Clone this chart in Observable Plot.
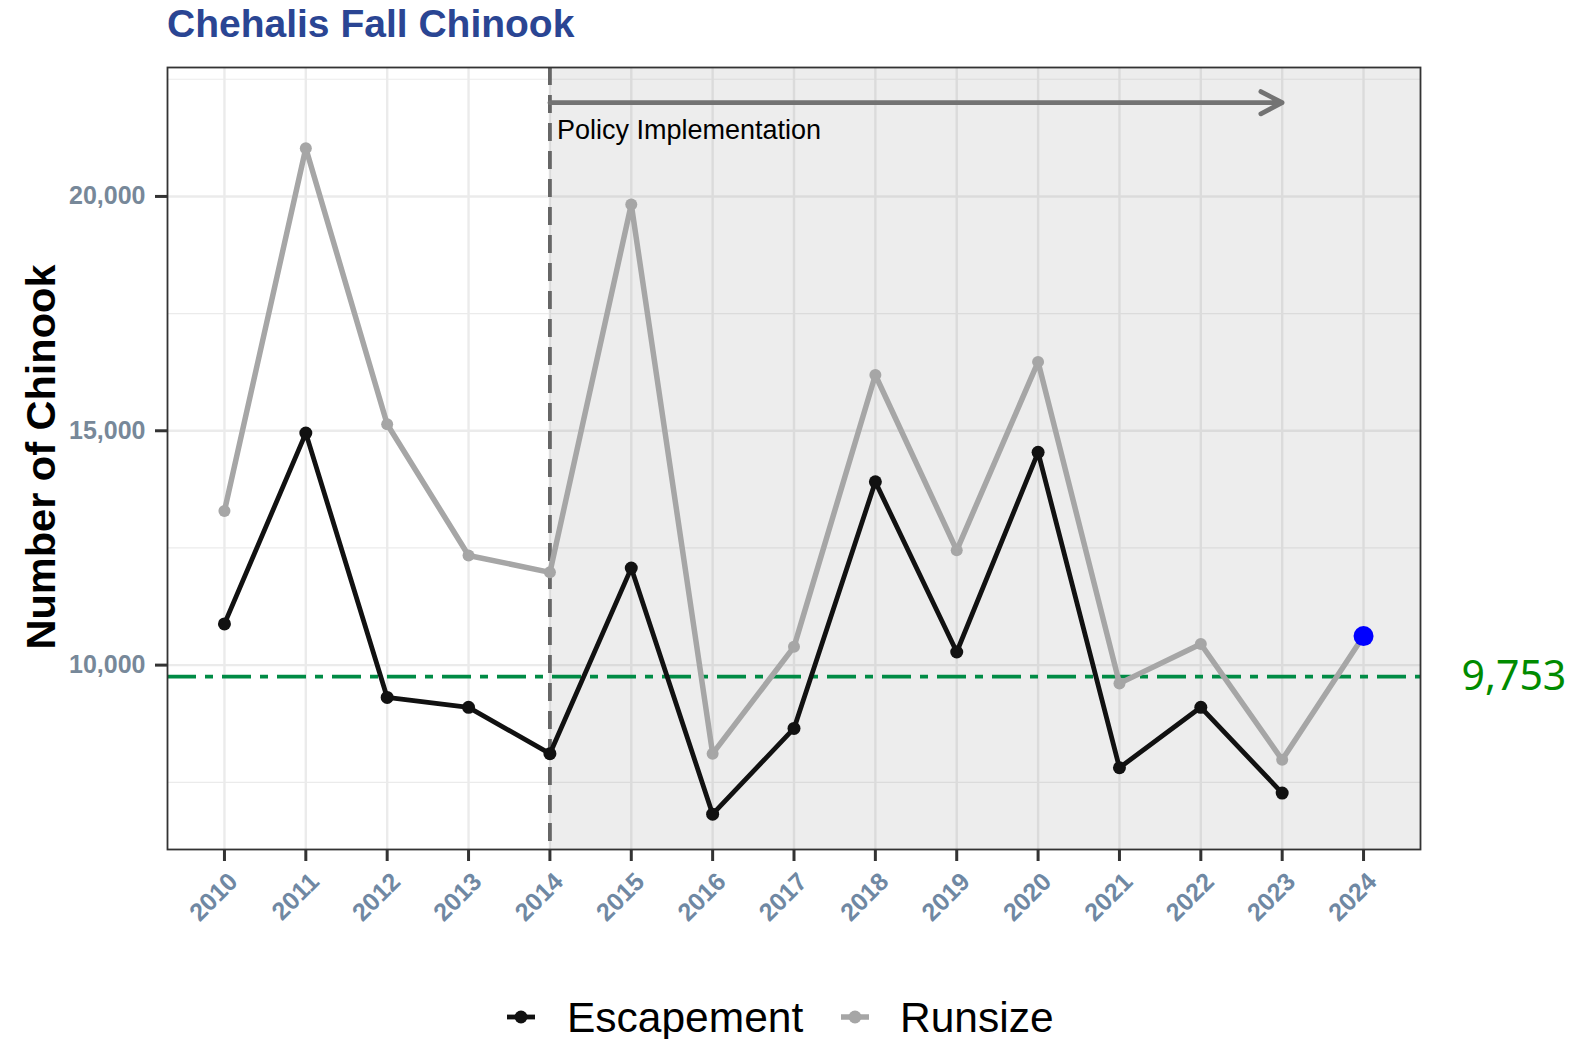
<!DOCTYPE html>
<html><head><meta charset="utf-8">
<script src="https://cdn.jsdelivr.net/npm/d3@7"></script>
<script src="https://cdn.jsdelivr.net/npm/@observablehq/plot@0.6"></script>
<style>
body{margin:0;background:#fff;font-family:"Liberation Sans",Arial,sans-serif}
#wrap{position:relative;width:1582px;height:1039px;overflow:hidden;background:#fff}
#title{height:50px;box-sizing:border-box;padding-left:167px;padding-top:2px;font-weight:bold;font-size:39px;line-height:44px;color:#2a4593;white-space:nowrap}
#ytitle{position:absolute;left:41px;top:456.5px;width:600px;text-align:center;font-weight:bold;font-size:41.5px;line-height:48px;color:#000;white-space:nowrap;transform:translate(-50%,-50%) rotate(-90deg)}
#plot svg{display:block;overflow:visible}
#plot g[aria-label="y-axis tick label"] text, #plot g[aria-label="x-axis tick label"] text{font-weight:bold}
#legend{position:relative;height:89px}
.key{position:absolute;top:57px;width:40px;height:20px}
.lab{position:absolute;top:43.5px;font-size:42.5px;line-height:48px;color:#000;white-space:nowrap}
</style></head>
<body><div id="wrap"><div id="title">Chehalis Fall Chinook</div><div id="plot"></div><div id="legend"></div><div id="ytitle">Number of Chinook</div></div>
<script>
const years = [2010, 2011, 2012, 2013, 2014, 2015, 2016, 2017, 2018, 2019, 2020, 2021, 2022, 2023, 2024];
const runsize = [13290, 21030, 15140, 12340, 11980, 19830, 8110, 10390, 16190, 12450, 16470, 9610, 10450, 7980, 10620];
const escapementYears = [2010, 2011, 2012, 2013, 2014, 2015, 2016, 2017, 2018, 2019, 2020, 2021, 2022, 2023];
const escapement = [10880, 14950, 9310, 9100, 8110, 12070, 6820, 8650, 13910, 10280, 14540, 7810, 9100, 7270];
const goal = 9753;
const policyYear = 2014;
const policyLabel = "Policy Implementation";
const arrowEndYear = 2023;
const arrowLevel = 22000;
const labelLevel = 21400;
const forecastYear = 2024;
const yTicks = [10000, 15000, 20000];
const yMinor = [7500, 12500, 17500, 22500];
const xDomain = [2009.3, 2024.7];
const yDomain = [6066, 22751];
const seriesNames = ["Escapement", "Runsize"];
const seriesColors = ["#111111", "#a6a6a6"];

const runRows = years.map((year, i) => ({year, value: runsize[i]}));
const escRows = escapementYears.map((year, i) => ({year, value: escapement[i]}));
const forecastRow = runRows.find(d => d.year === forecastYear);
const comma = d3.format(",");

const chart = Plot.plot({
  width: 1582, height: 900,
  marginTop: 17, marginBottom: 101, marginLeft: 167, marginRight: 162,
  style: {fontFamily: "Liberation Sans, Arial, sans-serif", background: "white", overflow: "visible"},
  x: {domain: xDomain},
  y: {domain: yDomain},
  marks: [
    Plot.gridY(yMinor, {stroke: "#ebebeb", strokeOpacity: 1, strokeWidth: 1.2}),
    Plot.gridY(yTicks, {stroke: "#ebebeb", strokeOpacity: 1, strokeWidth: 2.4}),
    Plot.gridX(years, {stroke: "#ebebeb", strokeOpacity: 1, strokeWidth: 2.4}),
    Plot.rect([{x1: policyYear, x2: xDomain[1]}], {x1: "x1", x2: "x2", fill: "#808080", fillOpacity: 0.14}),
    Plot.ruleX([policyYear], {stroke: "#666666", strokeWidth: 3.8, strokeDasharray: "18,10"}),
    Plot.ruleY([goal], {stroke: "#008b45", strokeWidth: 3.8, strokeDasharray: "29,9,8,9"}),
    Plot.line(runRows, {x: "year", y: "value", stroke: seriesColors[1], strokeWidth: 5.5}),
    Plot.dot(runRows.filter(d => d.year !== forecastYear), {x: "year", y: "value", fill: seriesColors[1], r: 6}),
    Plot.line(escRows, {x: "year", y: "value", stroke: seriesColors[0], strokeWidth: 4.8}),
    Plot.dot(escRows, {x: "year", y: "value", fill: seriesColors[0], r: 6.5}),
    Plot.dot([forecastRow], {x: "year", y: "value", fill: "#0000ff", r: 10}),
    Plot.arrow([{x1: policyYear, x2: arrowEndYear, y: arrowLevel}], {x1: "x1", x2: "x2", y1: "y", y2: "y", stroke: "#737373", strokeWidth: 4.8, headLength: 7.5, headAngle: 55, bend: 0}),
    Plot.text([policyLabel], {x: policyYear, y: labelLevel, text: d => d, textAnchor: "start", dx: 7, fontSize: 27, fill: "#000"}),
    Plot.text([goal], {y: d => d, text: d => comma(d), frameAnchor: "right", textAnchor: "start", dx: 41, fontSize: 41, fill: "#008b00", fontFamily: "Noto Sans, Open Sans, sans-serif"}),
    Plot.frame({stroke: "#333333", strokeWidth: 1.8}),
    Plot.axisY(yTicks, {tickFormat: comma, tickSize: 12, tickPadding: 10, fontSize: 25, fontWeight: "bold", fill: "#778899", stroke: "#333333", strokeWidth: 3, label: null}),
    Plot.axisX(years, {tickFormat: () => "", tickSize: 12, stroke: "#333333", strokeWidth: 3, label: null}),
    Plot.axisX(years, {tickFormat: d => String(d), tickSize: 0, tickPadding: 18, tickRotate: -45, dx: 9, dy: 10, fontSize: 25, fontWeight: "bold", fill: "#6f88a3", label: null})
  ]
});
document.getElementById("plot").appendChild(chart);

// legend
const legend = document.getElementById("legend");
const keyCenters = [521, 855];
const labelLefts = [567, 900];
seriesNames.forEach((name, i) => {
  const ns = "http://www.w3.org/2000/svg";
  const svg = document.createElementNS(ns, "svg");
  svg.setAttribute("class", "key");
  svg.setAttribute("width", 40); svg.setAttribute("height", 20);
  svg.style.left = (keyCenters[i] - 20) + "px";
  const ln = document.createElementNS(ns, "line");
  ln.setAttribute("x1", 6); ln.setAttribute("x2", 34); ln.setAttribute("y1", 10); ln.setAttribute("y2", 10);
  ln.setAttribute("stroke", seriesColors[i]); ln.setAttribute("stroke-width", i ? 5.5 : 4.8);
  const c = document.createElementNS(ns, "circle");
  c.setAttribute("cx", 20); c.setAttribute("cy", 10); c.setAttribute("r", 6.5); c.setAttribute("fill", seriesColors[i]);
  svg.appendChild(ln); svg.appendChild(c);
  legend.appendChild(svg);
  const lab = document.createElement("div");
  lab.className = "lab";
  lab.style.left = labelLefts[i] + "px";
  lab.textContent = name;
  legend.appendChild(lab);
});
</script></body></html>
